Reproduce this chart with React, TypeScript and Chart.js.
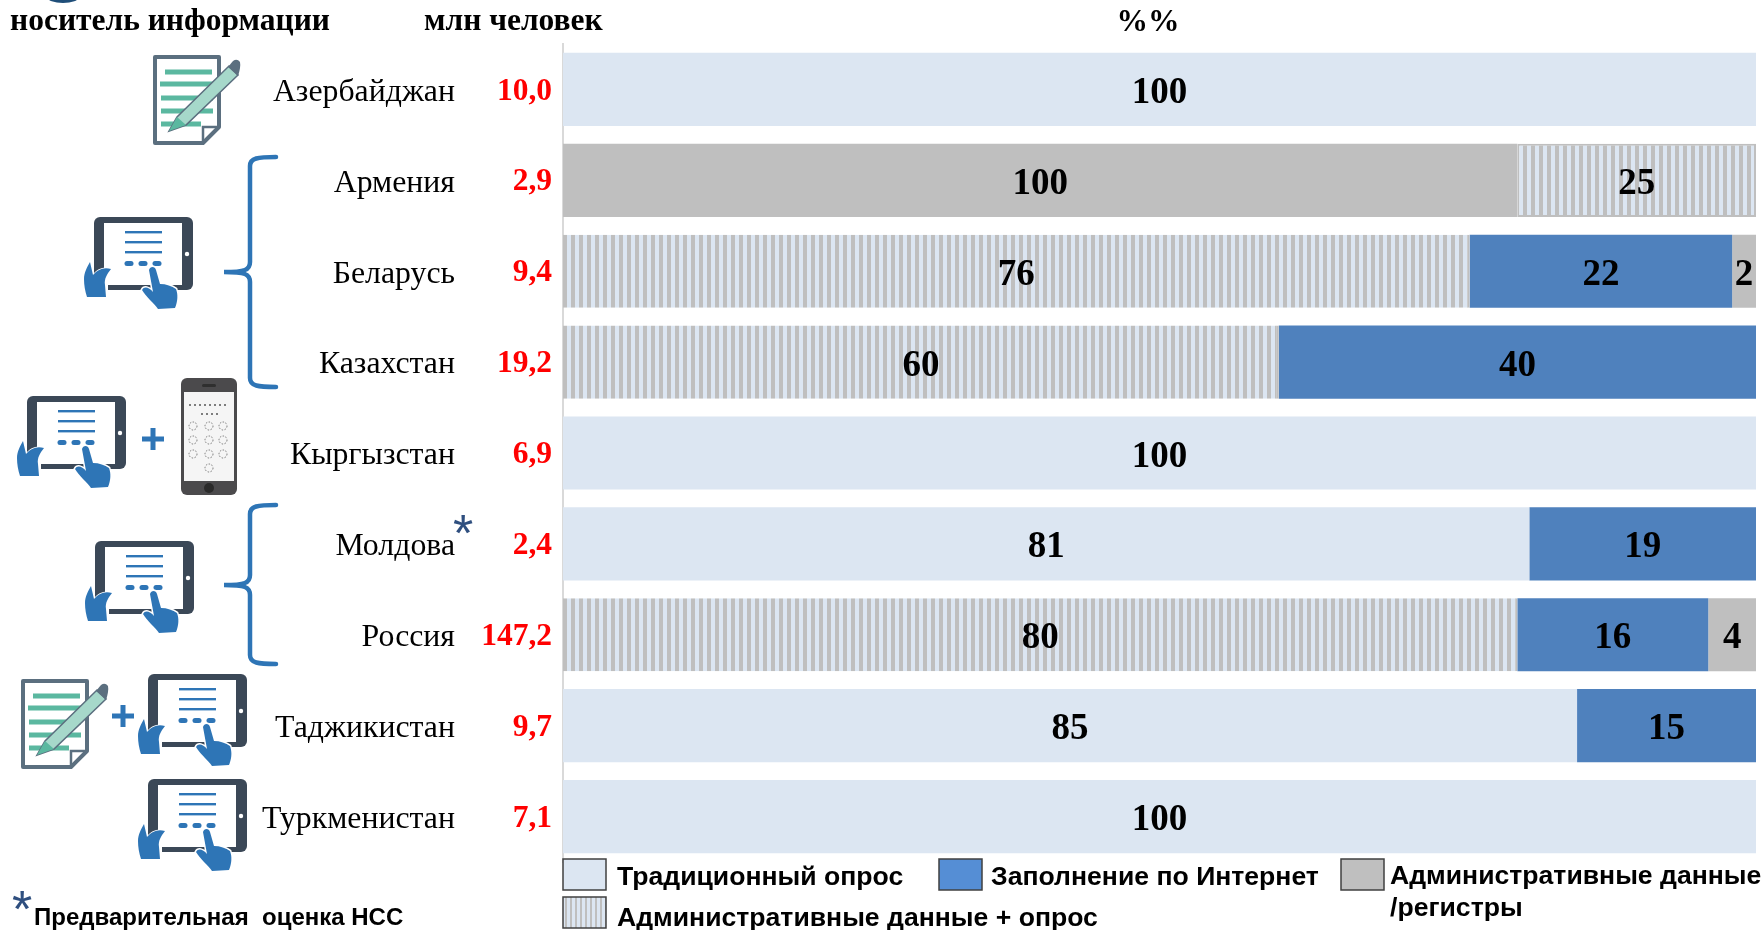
import React, { useEffect, useRef } from "react";
import { Chart, registerables } from "chart.js";

Chart.register(...registerables);

const countries = ["Азербайджан", "Армения", "Беларусь", "Казахстан", "Кыргызстан", "Молдова", "Россия", "Таджикистан", "Туркменистан"];
const population = ["10,0", "2,9", "9,4", "19,2", "6,9", "2,4", "147,2", "9,7", "7,1"];
const traditional = [100, 0, 0, 0, 100, 81, 0, 85, 100];
const registersFirst = [0, 100, 0, 0, 0, 0, 0, 0, 0];
const adminSurvey = [0, 25, 76, 60, 0, 0, 80, 0, 0];
const internet = [0, 0, 22, 40, 0, 19, 16, 15, 0];
const registersLast = [0, 0, 2, 0, 0, 0, 4, 0, 0];
const headers = ["носитель информации", "млн человек", "%%"];
const legendNames = ["Традиционный опрос", "Заполнение по Интернет", "Административные данные", "/регистры", "Административные данные + опрос"];
const footnote = "Предварительная  оценка НСС";

const LIGHT = "#DCE6F2";
const BLUE = "#4F81BD";
const GRAY = "#BFBFBF";
const ICON_BLUE = "#2E75B6";
const SERIF = '"Liberation Serif"';
const SANS = '"Liberation Sans"';

function stripes(period: number, gray: number, offset: number) {
  const c = document.createElement("canvas");
  c.width = period;
  c.height = 4;
  const g = c.getContext("2d")!;
  g.fillStyle = LIGHT;
  g.fillRect(0, 0, period, 4);
  g.fillStyle = GRAY;
  g.fillRect(offset, 0, gray, 4);
  return g.createPattern(c, "repeat")!;
}

const share = (arr: number[], i: number) => {
  const total = traditional[i] + registersFirst[i] + adminSurvey[i] + internet[i] + registersLast[i];
  return (arr[i] / total) * 100;
};

const Tablet = ({ x, y }: { x: number; y: number }) => (
  <g transform={`translate(${x} ${y})`}>
    <rect x="10" y="0" width="99" height="73" rx="6" fill="#3B4857" />
    <rect x="20" y="6" width="78" height="62" fill="#fff" />
    <circle cx="103" cy="37" r="2.2" fill="#fff" />
    {[15, 25, 35].map((ly) => (
      <rect key={ly} x="41" y={ly - 1} width="37" height="2.4" fill={ICON_BLUE} />
    ))}
    {[45, 59, 73].map((lx) => (
      <rect key={lx} x={lx - 4.5} y="44" width="9" height="5" rx="2.5" fill={ICON_BLUE} />
    ))}
    <rect x="9" y="60" width="15" height="14" fill="#fff" />
    <path
      d="M0 62 C0 56 3 50 6 45 L9 58 C14 52 20 50 27 52 C23 57 20 62 21 68 L22 80 H3 C1 74 0 68 0 62Z"
      fill={ICON_BLUE}
      stroke="#fff"
      strokeWidth="1.5"
      paintOrder="stroke"
    />
    <path
      d="M65 53 C66 49 71 49 72 53 L76 67 C82 67 88 69 92 72 C94 77 94 84 91 91 L74 92 C70 86 62 80 58 73 C60 69 65 70 69 75Z"
      fill={ICON_BLUE}
      stroke="#fff"
      strokeWidth="3"
      paintOrder="stroke"
    />
  </g>
);

const Note = ({ x, y }: { x: number; y: number }) => (
  <g transform={`translate(${x} ${y})`}>
    <path d="M2 2 H66 V72 L50 88 H2Z" fill="#fff" stroke="#5B6F7F" strokeWidth="4" strokeLinejoin="round" />
    <path d="M50 88 V72 H66" fill="none" stroke="#5B6F7F" strokeWidth="2.5" />
    {[[12, 17, 47], [7, 29, 53], [8, 43, 52], [8, 56, 52], [8, 69, 40]].map(([lx, ly, w]) => (
      <rect key={ly} x={lx} y={ly - 2.5} width={w} height="5" fill="#5BB8A0" />
    ))}
    <path d="M16 76 L24 62 L76 11 L85 20 L33 70Z" fill="#A6D8CA" stroke="#5B6F7F" strokeWidth="1.5" />
    <path d="M75 12 L80 6 Q84 3 87 7 Q88 12 85 21Z" fill="#5B6F7F" />
    <path d="M24 62 L16 76 L33 70Z" fill="#5BB8A0" />
  </g>
);

const Phone = ({ x, y }: { x: number; y: number }) => (
  <g transform={`translate(${x} ${y})`}>
    <rect x="0" y="0" width="56" height="117" rx="6" fill="#4B4A4C" />
    <rect x="3" y="14" width="50" height="89" fill="#F5F5F5" />
    <rect x="21" y="6" width="14" height="3" rx="1.5" fill="#2F2F2F" />
    <circle cx="28" cy="110" r="5" fill="#2A2A2A" />
    {[[12, 48], [28, 48], [42, 48], [12, 62], [28, 62], [42, 62], [12, 76], [28, 76], [42, 76], [28, 90]].map(([cx, cy]) => (
      <circle key={`${cx}-${cy}`} cx={cx} cy={cy} r="4" fill="none" stroke="#777" strokeWidth="1" strokeDasharray="1.5 1.5" />
    ))}
    <path d="M8 27 H48 M20 36 H38" stroke="#555" strokeWidth="1.5" strokeDasharray="2 3" />
  </g>
);

const Plus = ({ x, y }: { x: number; y: number }) => (
  <path d={`M${x - 11} ${y} H${x + 11} M${x} ${y - 11} V${y + 11}`} stroke={ICON_BLUE} strokeWidth="5" />
);

const Brace = ({ top, mid, bottom }: { top: number; mid: number; bottom: number }) => (
  <path
    d={`M276 ${top} C258 ${top} 250 ${top + 1} 250 ${top + 9} V${mid - 10} C250 ${mid - 2} 245 ${mid} 224 ${mid} C245 ${mid} 250 ${mid + 2} 250 ${mid + 10} V${bottom - 9} C250 ${bottom - 1} 258 ${bottom} 276 ${bottom}`}
    fill="none"
    stroke={ICON_BLUE}
    strokeWidth="4.5"
    strokeLinecap="round"
  />
);

export default function App() {
  const ref = useRef<HTMLCanvasElement>(null);

  useEffect(() => {
    const hatch = stripes(8, 4, 3);
    const hatchSmall = stripes(5, 2, 0);

    const decor = {
      id: "decor",
      afterDatasetsDraw(chart: any) {
        const ctx = chart.ctx as CanvasRenderingContext2D;
        ctx.save();
        const sources = [traditional, registersFirst, adminSurvey, internet, registersLast];
        ctx.font = `bold 37px ${SERIF}`;
        ctx.fillStyle = "#000";
        ctx.textAlign = "center";
        ctx.textBaseline = "middle";
        sources.forEach((src, d) => {
          const meta = chart.getDatasetMeta(d);
          src.forEach((v, i) => {
            if (!v) return;
            const el = meta.data[i];
            ctx.fillText(String(v), (el.x + el.base) / 2, el.y + 4);
          });
        });
        ctx.font = `bold 31.5px ${SERIF}`;
        ctx.fillStyle = "#FF0000";
        ctx.textAlign = "right";
        population.forEach((p, i) => {
          ctx.fillText(p, 552, chart.scales.y.getPixelForValue(i) + 2);
        });
        ctx.fillStyle = "#000";
        ctx.font = `bold 31.5px ${SERIF}`;
        ctx.textAlign = "left";
        ctx.fillText(headers[0], 10, 22);
        ctx.fillText(headers[1], 424, 22);
        ctx.textAlign = "center";
        ctx.fillText(headers[2], 1148, 23);
        const swatch = (x: number, y: number, fill: any) => {
          ctx.fillStyle = fill;
          ctx.fillRect(x, y, 43, 31);
          ctx.strokeStyle = "#404040";
          ctx.lineWidth = 1.5;
          ctx.strokeRect(x, y, 43, 31);
        };
        swatch(563, 859, LIGHT);
        swatch(939, 859, "#558ED5");
        swatch(1341, 859, GRAY);
        swatch(563, 897, hatchSmall);
        ctx.fillStyle = "#000";
        ctx.font = `bold 26.6px ${SANS}`;
        ctx.textAlign = "left";
        ctx.fillText(legendNames[0], 617, 878);
        ctx.fillText(legendNames[1], 991, 878);
        ctx.fillText(legendNames[2], 1390, 877);
        ctx.fillText(legendNames[3], 1390, 909);
        ctx.fillText(legendNames[4], 617, 919);
        ctx.font = `bold 24px ${SANS}`;
        ctx.fillText(footnote, 34, 918);
        ctx.fillStyle = "#2F4F7F";
        ctx.font = `52px ${SANS}`;
        ctx.textAlign = "center";
        ctx.fillText("*", 22, 913);
        ctx.fillText("*", 463, 537);
        ctx.restore();
      },
    };

    const bar = (label: string, src: number[], color: any, border?: any) => ({
      label,
      data: src.map((_, i) => share(src, i)),
      backgroundColor: color,
      borderColor: GRAY,
      borderWidth: border ?? 0,
      borderSkipped: false,
    });

    const chart = new Chart(ref.current!, {
      type: "bar",
      data: {
        labels: countries,
        datasets: [
          bar(legendNames[0], traditional, LIGHT),
          bar(legendNames[2], registersFirst, GRAY),
          bar(legendNames[4], adminSurvey, hatch, (c: any) =>
            c.dataIndex === 1 ? 2 : { top: 0, bottom: 0, left: 0, right: 2 }
          ),
          bar(legendNames[1], internet, BLUE),
          bar(legendNames[2], registersLast, GRAY),
        ],
      },
      options: {
        indexAxis: "y",
        responsive: false,
        animation: false,
        layout: { padding: { top: 44, bottom: 68, right: 6, left: 0 } },
        plugins: { legend: { display: false }, tooltip: { enabled: false }, title: { display: false } },
        datasets: { bar: { categoryPercentage: 1, barPercentage: 0.805 } },
        scales: {
          x: { stacked: true, min: 0, max: 100, display: false },
          y: {
            stacked: true,
            grid: { display: false, drawOnChartArea: false, drawTicks: true, tickLength: 108, tickColor: "transparent" },
            border: { display: true, color: "#D9D9D9", width: 2 },
            afterFit(s: any) {
              s.width = 563;
              s.paddingTop = 0;
              s.paddingBottom = 0;
            },
            ticks: { color: "#000", padding: 0, labelOffset: 3, font: { family: SERIF, size: 31.8 } },
          },
        },
      } as any,
      plugins: [decor],
    });
    return () => chart.destroy();
  }, []);

  return (
    <div style={{ position: "fixed", left: 0, top: 0, width: 1762, height: 930, background: "#fff", overflow: "hidden" }}>
      <canvas ref={ref} width={1762} height={930} style={{ position: "absolute", left: 0, top: 0 }} />
      <svg width={1762} height={930} style={{ position: "absolute", left: 0, top: 0 }}>
        <ellipse cx="63" cy="-3" rx="16" ry="6" fill="#1F4E79" />
        <Note x={153} y={55} />
        <Brace top={157} mid={272} bottom={387} />
        <Tablet x={84} y={217} />
        <Tablet x={17} y={396} />
        <Plus x={153} y={439} />
        <Phone x={181} y={378} />
        <Brace top={505} mid={585} bottom={664} />
        <Tablet x={85} y={541} />
        <Note x={21} y={679} />
        <Plus x={123} y={716} />
        <Tablet x={138} y={674} />
        <Tablet x={138} y={779} />
      </svg>
    </div>
  );
}
